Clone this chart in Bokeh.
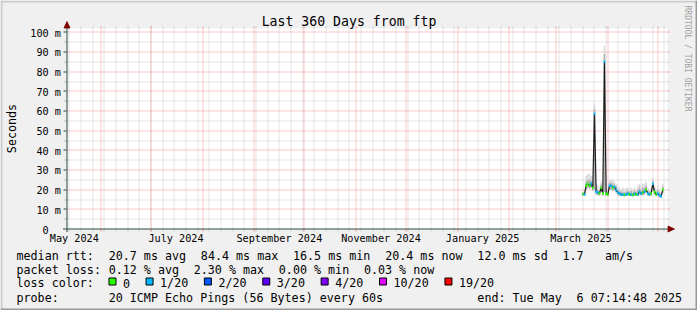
import math
import pandas as pd
from bokeh.plotting import figure
from bokeh.models import ColumnDataSource, Range1d
from bokeh.core.properties import value
from bokeh.embed import file_html
from bokeh.resources import INLINE

# ---------------- data ----------------
graph_start = "2024-05-11 07:14:48"
graph_end = "2025-05-06 07:14:48"
y_max = 101.7

y_ticks = [10, 20, 30, 40, 50, 60, 70, 80, 90, 100]
y_tick_labels = ["10 m", "20 m", "30 m", "40 m", "50 m", "60 m", "70 m", "80 m", "90 m", "100 m"]
y_zero_label = "0"
y_minor_ticks = [5, 15, 25, 35, 45, 55, 65, 75, 85, 95]

month_starts = ["2024-06-01", "2024-07-01", "2024-08-01", "2024-09-01", "2024-10-01",
                "2024-11-01", "2024-12-01", "2025-01-01", "2025-02-01", "2025-03-01",
                "2025-04-01", "2025-05-01"]
x_label_dates = ["2024-05-16", "2024-07-16", "2024-09-16", "2024-11-16", "2025-01-16", "2025-03-16"]
x_labels = ["May 2024", "July 2024", "September 2024", "November 2024", "January 2025", "March 2025"]
first_monday = "2024-05-13"
last_monday = "2025-05-05"

first_sample = "2025-03-17 02:00"
median_ms = [17.8, 17.5, 22.0, 23.0, 22.0, 23.0, 21.0, 58.6, 19.0, 18.6,
             18.0, 21.0, 18.0, 85.0, 18.0, 17.5, 22.0, 22.0, 21.0, 21.5,
             20.0, 18.5, 18.0, 17.5, 17.5, 17.3, 17.5, 18.0, 17.5, 17.5,
             17.3, 18.0, 17.5, 17.5, 19.0, 18.0, 18.5, 19.0, 20.0, 18.0,
             17.5, 18.0, 23.0, 19.0, 17.5, 18.0, 17.0, 16.5, 20.0]
smoke_lo = [17.0, 16.8, 20.0, 21.0, 20.5, 21.0, 19.5, 20.0, 17.5, 17.2,
            17.0, 19.0, 17.0, 19.0, 17.0, 16.8, 20.0, 20.0, 19.5, 19.5,
            18.5, 17.2, 17.0, 16.8, 16.8, 16.6, 16.8, 17.0, 16.8, 16.8,
            16.6, 17.0, 16.8, 16.8, 17.5, 17.0, 17.2, 17.5, 18.5, 17.0,
            16.8, 17.0, 20.5, 17.5, 16.8, 17.0, 16.4, 16.0, 18.5]
smoke_core = [18.5, 18.5, 24.0, 25.0, 25.0, 24.5, 23.5, 61.0, 21.0, 20.0,
              19.5, 22.5, 19.0, 89.0, 19.0, 18.5, 23.5, 23.5, 23.0, 22.5,
              21.5, 20.0, 19.5, 19.0, 19.0, 18.5, 19.0, 19.5, 19.0, 19.5,
              18.5, 19.5, 19.0, 20.0, 21.0, 20.0, 21.0, 21.0, 22.0, 19.5,
              19.0, 19.5, 24.5, 20.5, 19.0, 20.0, 18.5, 18.0, 21.5]
smoke_hi = [19.0, 20.0, 27.0, 28.0, 28.0, 27.0, 26.0, 64.0, 23.0, 22.0,
            21.0, 24.0, 20.0, 93.0, 20.0, 20.0, 25.0, 25.0, 25.0, 24.0,
            23.0, 22.0, 21.0, 20.0, 21.0, 20.0, 21.0, 21.0, 20.0, 21.0,
            20.0, 21.0, 20.0, 22.0, 23.0, 22.0, 23.0, 23.0, 24.0, 21.0,
            20.0, 21.0, 26.0, 22.0, 20.0, 22.0, 20.0, 19.0, 23.0]
loss_pings = [0, 1, 0, 0, 0, 1, 0, 1, 1, 1,
              0, 0, 0, 1, 0, 0, 1, 1, 0, 1,
              1, 1, 1, 1, 1, 0, 1, 1, 0, 1,
              0, 1, 0, 1, 1, 1, 0, 1, 0, 1,
              1, 0, 1, 0, 0, 1, 1, 1, 0]

loss_labels = ["0", "1/20", "2/20", "3/20", "4/20", "10/20", "19/20"]
loss_thresholds = [0, 1, 2, 3, 4, 10, 19]
loss_colors = ["#26ff00", "#00b8ff", "#0059ff", "#5e00ff", "#7e00ff", "#dd00ff", "#ff0000"]

title_text = "Last 360 Days from ftp"
unit_text = "Seconds"
watermark = "RRDTOOL / TOBI OETIKER"
# (text, column in a monospaced legend line)
legend_rows = [
    [("median rtt:", 0), ("20.7 ms avg", 13), ("84.4 ms max", 26), ("16.5 ms min", 39),
     ("20.4 ms now", 52), ("12.0 ms sd", 65), ("1.7", 77), ("am/s", 83)],
    [("packet loss:", 0), ("0.12 % avg", 13), ("2.30 % max", 25), ("0.00 % min", 37),
     ("0.03 % now", 49)],
    [("loss color:", 0)],
    [("probe:", 0), ("20 ICMP Echo Pings (56 Bytes) every 60s", 13),
     ("end: Tue May", 65), ("6 07:14:48 2025", 79)],
]

# ---------------- layout (canvas pixels) ----------------
W, H = 697, 310
X0, X1 = 66.0, 666.0          # pixel x of graph start / end
Y0, YTOP = 228.5, 28.5        # pixel y of 0 and of y_max
LEG_X, CHW = 16.0, 7.09       # legend left edge, monospaced advance
LEG_BASE = [255, 269, 282.5, 297]
MONO = "DejaVu Sans Mono"
GRID = "#8c8c8c"
MGRID = "#f05050"


def ms(t):
    return pd.Timestamp(t).value / 1e6


def loss_color(n):
    c = loss_colors[0]
    for t, col in zip(loss_thresholds, loss_colors):
        if n >= t:
            c = col
    return c


t0, t1 = ms(graph_start), ms(graph_end)
mpp = (t1 - t0) / (X1 - X0)
ypp = y_max / (Y0 - YTOP)


def snap_t(t):
    px = X0 + (t - t0) / mpp
    return t0 + (math.floor(px) + 0.5 - X0) * mpp


def snap_v(v):
    py = Y0 - v / ypp
    return (Y0 - (math.floor(py) + 0.5)) * ypp


def vy(py):
    """value on the ms scale that sits at canvas row edge py"""
    return (Y0 - py) * ypp


def tx(px):
    """time on the time scale that sits at canvas column edge px"""
    return t0 + (px - X0) * mpp


p = figure(width=W, height=H, x_range=Range1d(0, W), y_range=Range1d(H, 0),
           x_axis_location=None, y_axis_location=None, min_border=0,
           toolbar_location=None, output_backend="svg", title=None)
p.grid.visible = False
p.outline_line_color = None
p.background_fill_color = "#f0f0f0"
p.border_fill_color = "#f0f0f0"
p.extra_x_ranges = {"time": Range1d(tx(0), tx(W))}
p.extra_y_ranges = {"ms": Range1d(vy(H), vy(0))}
TM = dict(x_range_name="time", y_range_name="ms")

# outer 3D frame
p.quad(left=[0, 0], right=[W, 2], top=[0, 0], bottom=[2, H], fill_color="#cbcbcb", line_color=None)
p.quad(left=[0, W - 2], right=[W, W], top=[H - 2, 0], bottom=[H, H], fill_color="#999999", line_color=None)

# white canvas of the graph
p.quad(left=[tx(67)], right=[tx(667)], bottom=[vy(228)], top=[vy(28)], fill_color="white",
       line_color=None, **TM)


def vgrid(times, color, alpha):
    xs = [snap_t(t) for t in times]
    n = len(xs)
    p.segment(x0=xs, x1=xs, y0=[vy(228)] * n, y1=[vy(28)] * n, line_color=color,
              line_alpha=alpha, line_dash="1 1", line_width=1, **TM)
    p.segment(x0=xs, x1=xs, y0=[vy(28)] * n, y1=[vy(26)] * n, line_color=color,
              line_alpha=alpha, line_width=1, **TM)
    p.segment(x0=xs, x1=xs, y0=[vy(229)] * n, y1=[vy(231)] * n, line_color=color,
              line_alpha=alpha, line_width=1, **TM)


def hgrid(vals, color, alpha):
    ys = [snap_v(v) for v in vals]
    n = len(ys)
    p.segment(x0=[tx(67)] * n, x1=[tx(667)] * n, y0=ys, y1=ys, line_color=color,
              line_alpha=alpha, line_dash="1 1", line_width=1, **TM)
    p.segment(x0=[tx(667)] * n, x1=[tx(669)] * n, y0=ys, y1=ys, line_color=color,
              line_alpha=alpha, line_width=1, **TM)
    return ys


mondays = [ms(d) for d in pd.date_range(first_monday, last_monday, freq="7D")]
vgrid(mondays, GRID, 0.42)
ys_minor = hgrid(y_minor_ticks, GRID, 0.42)
vgrid([ms(d) for d in month_starts], MGRID, 0.6)
ys_major = hgrid(y_ticks, MGRID, 0.6)

# data: smoke, median line and loss-coloured median marks
dates = pd.date_range(first_sample, periods=len(median_ms), freq="D")
src = ColumnDataSource(dict(
    x=dates, med=median_ms, lo=smoke_lo, core=smoke_core, hi=smoke_hi,
    col=[loss_color(n) for n in loss_pings]))
day = 86400000
p.vbar(x="x", bottom="lo", top="hi", width=day, source=src,
       fill_color="#dcdcdc", line_color=None, **TM)
p.vbar(x="x", bottom="lo", top="core", width=day, source=src,
       fill_color="#b4b4b4", line_color=None, **TM)
p.line(x="x", y="med", source=src, line_color="#1c1c1c", line_width=1.2, **TM)
p.rect(x="x", y="med", width=day, height=2.5, height_units="screen",
       source=src, fill_color="col", line_color=None, **TM)

# y axis tick marks + labels
p.segment(x0=[63.0] * len(ys_major), x1=[66.0] * len(ys_major), y0=ys_major, y1=ys_major,
          line_color="#2c4d43", line_width=1, y_range_name="ms")
p.segment(x0=[64.0] * len(ys_minor), x1=[66.0] * len(ys_minor), y0=ys_minor,
          y1=ys_minor, line_color=GRID, line_alpha=0.7, line_width=1, y_range_name="ms")
p.text(x=[60.5] * len(y_ticks), y=y_ticks, text=y_tick_labels, y_range_name="ms",
       text_font=value(MONO), text_font_size="10.2px", text_align="right",
       text_baseline="alphabetic", y_offset=0.8, text_color="black")
p.text(x=[48.2], y=[0], text=[y_zero_label], y_range_name="ms",
       text_font=value(MONO), text_font_size="10.2px", text_align="right",
       text_baseline="alphabetic", y_offset=0.8, text_color="black")
# x labels
p.text(x=[ms(d) for d in x_label_dates], y=[238.0] * len(x_labels), text=x_labels,
       x_range_name="time", text_font=value(MONO), text_font_size="10.2px",
       text_align="center", text_baseline="alphabetic", text_color="black")

# axis lines and arrows
p.segment(x0=[66.5, 62.5], x1=[66.5, 670.0], y0=[231.5, 228.5], y1=[26.0, 228.5],
          line_color="#2c4d43", line_width=1)
p.patch(x=[63.5, 69.5, 66.5], y=[27.5, 27.5, 21.0], fill_color="#7f0000", line_color="#7f0000", line_width=0.8)
p.patch(x=[667.5, 667.5, 674.0], y=[225.5, 231.5, 228.5], fill_color="#7f0000", line_color="#7f0000", line_width=0.8)

# title, unit and watermark
p.text(x=[348.5], y=[21.0], text=[title_text], text_font=value(MONO), text_font_size="13.2px",
       text_align="center", text_baseline="alphabetic", text_color="black")
p.text(x=[11.0], y=[128], text=[unit_text], angle=math.pi / 2, text_font=value(MONO),
       text_font_size="11.7px", text_align="center", text_baseline="alphabetic", text_color="black")
p.text(x=[686.5], y=[5], text=[watermark], angle=-math.pi / 2, text_font=value(MONO),
       text_font_size="8px", text_align="left", text_baseline="alphabetic", text_color="#a0a0a0")

# legend rows
for row, yb in zip(legend_rows, LEG_BASE):
    p.text(x=[LEG_X + c * CHW for _, c in row], y=[yb] * len(row), text=[t for t, _ in row],
           text_font=value(MONO), text_font_size="11.7px", text_align="left",
           text_baseline="alphabetic", text_color="black")

# loss colour legend: box, label, next entry
box_x = []
bx = LEG_X + 13 * CHW - 0.2
for lab in loss_labels:
    box_x.append(bx)
    bx += 30.0 + CHW * len(lab)
p.quad(left=[b + 0.5 for b in box_x], right=[b + 7.5 for b in box_x],
       top=[277.5] * len(box_x), bottom=[284.5] * len(box_x),
       fill_color=loss_colors, line_color="black", line_width=1)
p.text(x=[b + 14.5 for b in box_x], y=[LEG_BASE[2]] * len(box_x), text=loss_labels,
       text_font=value(MONO), text_font_size="11.7px", text_align="left",
       text_baseline="alphabetic", text_color="black")

open("out.html", "w").write(file_html(p, INLINE))
